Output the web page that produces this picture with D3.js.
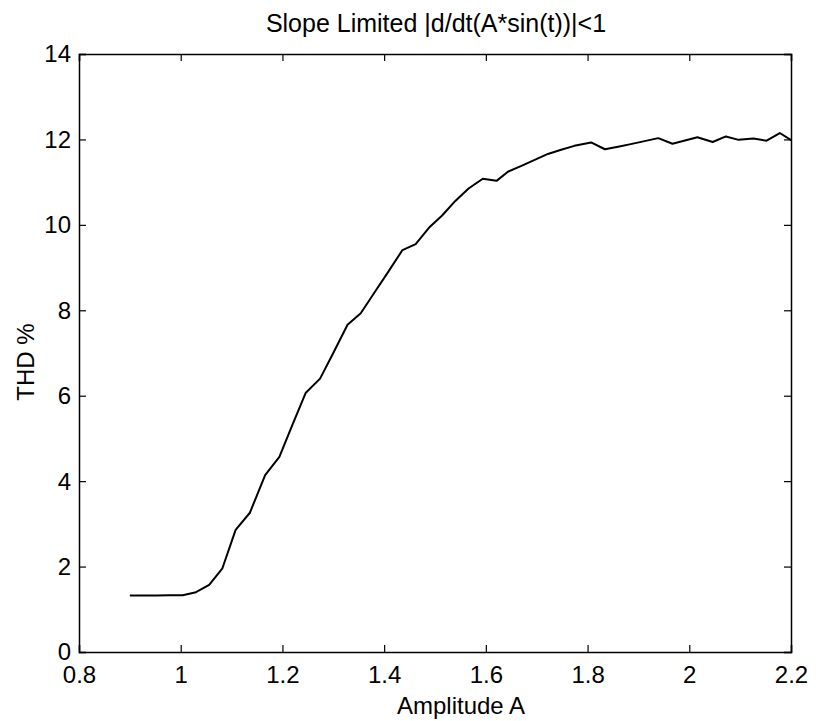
<!DOCTYPE html>
<html>
<head>
<meta charset="utf-8">
<script src="https://cdn.jsdelivr.net/npm/d3@7"></script>
<style>
  html, body { margin: 0; padding: 0; background: #fff; }
  svg { display: block; }
  text { font-family: "Liberation Sans", Arial, Helvetica, sans-serif; fill: #000; }
</style>
</head>
<body>
<svg id="chart" width="816" height="721"></svg>
<script>
// ---- data ----
const amplitude = [0.900, 0.926, 0.952, 0.978, 1.004, 1.030, 1.056, 1.082, 1.108, 1.136,
  1.166, 1.194, 1.220, 1.246, 1.274, 1.300, 1.328, 1.354, 1.380, 1.408,
  1.436, 1.462, 1.488, 1.514, 1.540, 1.566, 1.594, 1.621, 1.644, 1.670,
  1.696, 1.722, 1.748, 1.774, 1.807, 1.834, 1.860, 1.885, 1.912, 1.939,
  1.967, 2.016, 2.046, 2.072, 2.097, 2.126, 2.152, 2.178, 2.201];
const thd = [1.32, 1.32, 1.32, 1.33, 1.33, 1.40, 1.57, 1.96, 2.86, 3.26,
  4.14, 4.57, 5.33, 6.07, 6.40, 7.00, 7.66, 7.93, 8.40, 8.90,
  9.41, 9.55, 9.93, 10.22, 10.56, 10.85, 11.08, 11.03, 11.25, 11.38,
  11.52, 11.66, 11.76, 11.85, 11.93, 11.77, 11.83, 11.89, 11.96, 12.03,
  11.90, 12.05, 11.94, 12.07, 11.99, 12.02, 11.97, 12.15, 11.98];
const xTicks = [0.8, 1, 1.2, 1.4, 1.6, 1.8, 2, 2.2];
const yTicks = [0, 2, 4, 6, 8, 10, 12, 14];
const titleText = "Slope Limited |d/dt(A*sin(t))|<1";
const xLabel = "Amplitude A";
const yLabel = "THD %";

// ---- layout ----
const svg = d3.select("#chart");
const padL = 79, padR = 791, padT = 54, padB = 652;

const x = d3.scaleLinear().domain([0.8, 2.2]).range([padL, padR]);
const y = d3.scaleLinear().domain([0, 14]).range([padB, padT]);

const tickLen = 7;
const fontSize = 24;

// axes (inward ticks, MATLAB style box)
const gBottom = svg.append("g").attr("transform", `translate(0,${padB})`)
  .call(d3.axisBottom(x).tickValues(xTicks).tickSize(-tickLen).tickPadding(14)
    .tickFormat(d => String(+d.toFixed(1))));
const gTop = svg.append("g").attr("transform", `translate(0,${padT})`)
  .call(d3.axisTop(x).tickValues(xTicks).tickSize(-tickLen).tickFormat(""));
const gLeft = svg.append("g").attr("transform", `translate(${padL},0)`)
  .call(d3.axisLeft(y).tickValues(yTicks).tickSize(-tickLen).tickPadding(8));
const gRight = svg.append("g").attr("transform", `translate(${padR},0)`)
  .call(d3.axisRight(y).tickValues(yTicks).tickSize(-tickLen).tickFormat(""));

[gBottom, gTop, gLeft, gRight].forEach(g => {
  g.selectAll(".domain").attr("stroke", "#000").attr("stroke-width", 1.5);
  g.selectAll(".tick line").attr("stroke", "#000").attr("stroke-width", 1.2);
  g.selectAll("text").attr("font-size", fontSize)
    .attr("font-family", "'Liberation Sans', Arial, sans-serif").attr("fill", "#000");
});
gBottom.selectAll(".tick text").attr("dy", "0.71em");
gLeft.selectAll(".tick text").attr("dy", "0.33em");

// data line
const line = d3.line().x((d, i) => x(amplitude[i])).y(d => y(d));
svg.append("path")
  .datum(thd)
  .attr("fill", "none")
  .attr("stroke", "#000")
  .attr("stroke-width", 2)
  .attr("stroke-linejoin", "round")
  .attr("d", line);

// title & labels
svg.append("text")
  .attr("x", 436).attr("y", 32)
  .attr("text-anchor", "middle").attr("font-size", 25)
  .text(titleText);
svg.append("text")
  .attr("x", 461).attr("y", 714)
  .attr("text-anchor", "middle").attr("font-size", 24)
  .text(xLabel);
svg.append("text")
  .attr("transform", `translate(34,362) rotate(-90)`)
  .attr("text-anchor", "middle").attr("font-size", 24)
  .text(yLabel);
</script>
</body>
</html>
